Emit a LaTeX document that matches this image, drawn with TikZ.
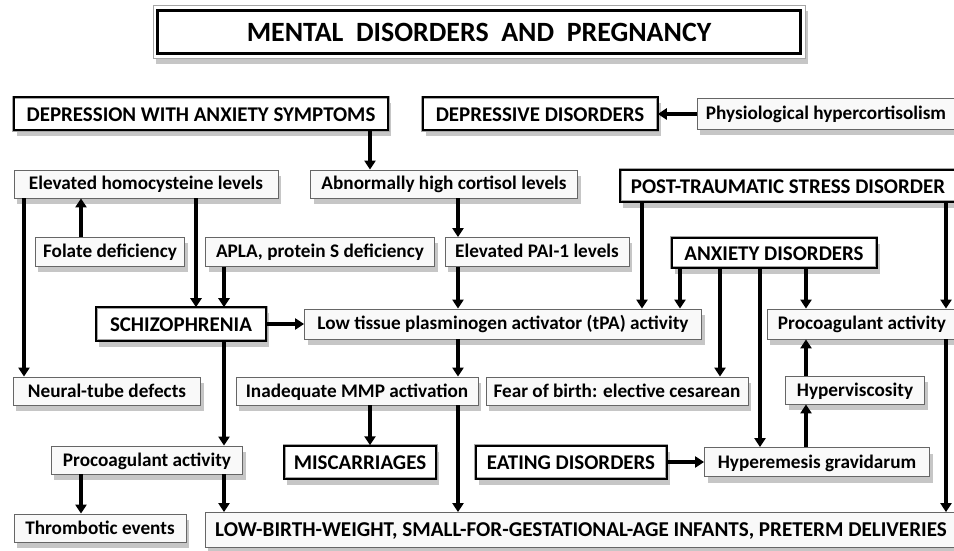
\documentclass[tikz,border=0pt]{standalone}
\usepackage{fontspec}
\setmainfont{Carlito}
\usetikzlibrary{arrows.meta,shadows}

\begin{document}
\begin{tikzpicture}[x=1bp,y=-1bp,
  box/.style={rectangle,inner sep=0pt,font=\bfseries,
    drop shadow={shadow xshift=3bp,shadow yshift=-6bp,opacity=.45}},
  effect/.style={box,draw=black!60,line width=.8bp,fill=gray!5,text height=15.5bp,text depth=3.5bp,font=\bfseries\fontsize{19.3}{21}\selectfont},
  disorder/.style={box,draw=gray!70,line width=.5bp,double=black,double distance=2bp,fill=white,text height=14.5bp,text depth=0pt,font=\bfseries\fontsize{21}{23}\selectfont},
  arr/.style={line width=3.5bp,-{Triangle[width=11bp,length=9bp]}}]
  \useasboundingbox (0,0) rectangle (954,551);

  \node[box,draw=gray!70,line width=.6bp,fill=white,minimum width=652bp,minimum height=53bp,font=\bfseries\fontsize{28}{30}\selectfont](title) at (479,32){MENTAL\ \ DISORDERS\ \ AND\ \ PREGNANCY};
  \draw[line width=3bp] ([shift={(5,5)}]title.north west) rectangle ([shift={(-5,-5)}]title.south east);

  \node[disorder,minimum width=374bp,minimum height=33bp](depanx) at (201,114){DEPRESSION WITH ANXIETY SYMPTOMS};
  \node[disorder,minimum width=235bp,minimum height=33bp](depr) at (540,114){DEPRESSIVE DISORDERS};
  \node[effect,minimum width=258bp,minimum height=31bp](physio) at (826,114){Physiological hypercortisolism};

  \node[effect,minimum width=264bp,minimum height=28bp](homocys) at (146,184){Elevated homocysteine levels};
  \node[effect,minimum width=267bp,minimum height=28bp](cortisol) at (444,184){Abnormally high cortisol levels};
  \node[disorder,minimum width=336bp,minimum height=32bp](ptsd) at (788,186){POST-TRAUMATIC STRESS DISORDER};

  \node[effect,minimum width=149bp,minimum height=29bp](folate) at (110,252){Folate deficiency};
  \node[effect,minimum width=229bp,minimum height=29bp](apla) at (320,252){APLA, protein S deficiency};
  \node[effect,minimum width=184bp,minimum height=29bp](pai) at (537,252){Elevated PAI-1 levels};
  \node[disorder,minimum width=205bp,minimum height=30bp](anx) at (774,253){ANXIETY DISORDERS};

  \node[disorder,minimum width=170bp,minimum height=33bp](schizo) at (181,324){SCHIZOPHRENIA};
  \node[effect,minimum width=397bp,minimum height=30bp](tpa) at (503,324){Low tissue plasminogen activator (tPA) activity};
  \node[effect,minimum width=190bp,minimum height=30bp](procoagR) at (862,324){Procoagulant activity};

  \node[effect,minimum width=187bp,minimum height=28bp](neural) at (107,391){Neural-tube defects};
  \node[effect,minimum width=242bp,minimum height=28bp](mmp) at (357,391){Inadequate MMP activation};
  \node[effect,minimum width=262bp,minimum height=28bp](fear) at (617,391){Fear of birth: elective cesarean};
  \node[effect,minimum width=139bp,minimum height=28bp](hypervisc) at (855,390){Hyperviscosity};

  \node[effect,minimum width=191bp,minimum height=28bp](procoagL) at (147,460){Procoagulant activity};
  \node[disorder,minimum width=152bp,minimum height=33bp](miscar) at (360,462){MISCARRIAGES};
  \node[disorder,minimum width=191bp,minimum height=33bp](eating) at (571,462){EATING DISORDERS};
  \node[effect,minimum width=225bp,minimum height=29bp](hyperem) at (817,462){Hyperemesis gravidarum};

  \node[effect,minimum width=172bp,minimum height=28bp](thromb) at (100,528){Thrombotic events};
  \node[effect,minimum width=752bp,minimum height=35bp,font=\bfseries\fontsize{21.2}{23}\selectfont](lbw) at (581,530){LOW-BIRTH-WEIGHT, SMALL-FOR-GESTATIONAL-AGE INFANTS, PRETERM DELIVERIES};

  % arrow columns
  \coordinate (cA) at (24,0);
  \coordinate (cB) at (81,0);
  \coordinate (cC) at (196,0);
  \coordinate (cD) at (224,0);
  \coordinate (cE) at (370,0);
  \coordinate (cF) at (458,0);
  \coordinate (cG) at (642,0);
  \coordinate (cH) at (680,0);
  \coordinate (cI) at (720,0);
  \coordinate (cJ) at (760,0);
  \coordinate (cK) at (806,0);
  \coordinate (cL) at (946,0);

  \path[arr]
  (physio) edge (depr)
  (depanx.south -| cE) edge (cortisol.north -| cE)
  (folate.north -| cB) edge (homocys.south -| cB)
  (homocys.south -| cA) edge (neural.north -| cA)
  (homocys.south -| cC) edge (schizo.north -| cC)
  (apla.south -| cD) edge (schizo.north -| cD)
  (cortisol.south -| cF) edge (pai.north -| cF)
  (pai.south -| cF) edge (tpa.north -| cF)
  (schizo) edge (tpa)
  (ptsd.south -| cG) edge (tpa.north -| cG)
  (anx.south -| cH) edge (tpa.north -| cH)
  (anx.south -| cI) edge (fear.north -| cI)
  (anx.south -| cJ) edge (hyperem.north -| cJ)
  (anx.south -| cK) edge (procoagR.north -| cK)
  (ptsd.south -| cL) edge (procoagR.north -| cL)
  (procoagR.south -| cL) edge (lbw.north -| cL)
  (tpa.south -| cF) edge (mmp.north -| cF)
  (mmp.south -| cE) edge (miscar.north -| cE)
  (mmp.south -| cF) edge (lbw.north -| cF)
  (schizo.south -| cD) edge (procoagL.north -| cD)
  (procoagL.south -| cB) edge (thromb.north -| cB)
  (procoagL.south -| cD) edge (lbw.north -| cD)
  (eating) edge (hyperem)
  (hyperem.north -| cK) edge (hypervisc.south -| cK)
  (hypervisc.north -| cK) edge (procoagR.south -| cK);
\end{tikzpicture}
\end{document}
